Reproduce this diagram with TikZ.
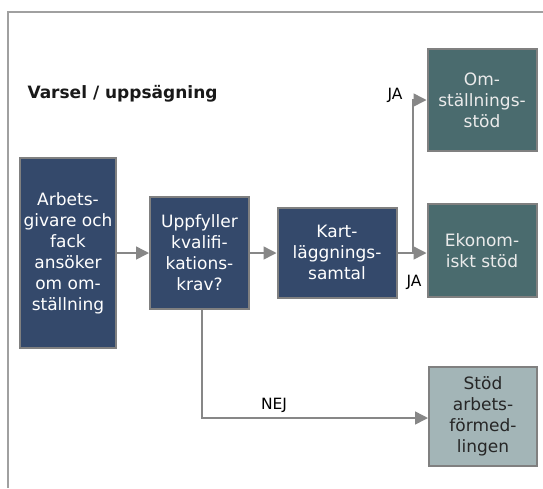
\documentclass[tikz,border=0pt]{standalone}
\usepackage{fontspec}
\setmainfont{DejaVu Sans}
\usetikzlibrary{arrows.meta}
\definecolor{dblue}{RGB}{52,73,107}
\definecolor{teal2}{RGB}{74,107,110}
\definecolor{lgray}{RGB}{163,181,183}
\definecolor{bord}{RGB}{128,128,128}
\definecolor{frame}{RGB}{160,160,160}
\definecolor{lne}{RGB}{135,135,135}
\begin{document}
\begin{tikzpicture}[x=1pt,y=-1pt,
  box/.style={draw=bord, line width=2pt, align=center, inner sep=0pt,
    font=\fontsize{17}{21}\selectfont},
  bluebox/.style={box, fill=dblue, text=white},
  tealbox/.style={box, fill=teal2, text=white!92!black},
  lightbox/.style={box, fill=lgray, text=black!85},
  conn/.style={draw=lne, line width=1.5pt, -{Triangle[length=13pt,width=13pt,fill=lne]}},
  lbl/.style={font=\fontsize{15.5}{18}\selectfont, text=black}]
\useasboundingbox (0,0) rectangle (543,488);
\fill[white] (0,0) rectangle (543,488);
\draw[frame, line width=2pt] (8,488) -- (8,12) -- (543,12);
\node[anchor=west, font=\fontsize{17}{20}\selectfont\bfseries, text=black!90] (title) at (24,94) {Varsel / uppsägning};
\node[bluebox, minimum width=96pt, minimum height=190pt] (b1) at (68,253) {Arbets-\\givare och\\fack\\ansöker\\om om-\\ställning};
\node[bluebox, minimum width=99pt, minimum height=112pt] (b2) at (199.5,253) {Uppfyller\\kvalifi-\\kations-\\krav?};
\node[bluebox, minimum width=119pt, minimum height=90pt] (b3) at (337,252.5) {Kart-\\läggnings-\\samtal};
\node[tealbox, minimum width=109pt, minimum height=93pt] (b4) at (482,250.5) {Ekonom-\\iskt stöd};
\node[tealbox, minimum width=109pt, minimum height=102pt] (b5) at (482,100) {Om-\\ställnings-\\stöd};
\node[lightbox, minimum width=108pt, minimum height=99pt] (b6) at (483,416) {Stöd\\arbets-\\förmed-\\lingen};
\coordinate (br) at (413,253);
\coordinate (nj) at (202,418);
\draw[conn] (b1.east |- 0,253) -- (b2.west |- 0,253);
\draw[conn] (b2.east |- 0,253) -- (b3.west |- 0,253);
\draw[conn] (b3.east |- 0,253) -- (b4.west |- 0,253);
\draw[conn] (br) |- (b5.west);
\draw[conn] (b2.south -| nj) -- (nj) -- (b6.west |- nj);
\node[lbl] (ja1) at (395,95) {JA};
\node[lbl] (ja2) at (414,282) {JA};
\node[lbl] (nej) at (274,405) {NEJ};
\end{tikzpicture}
\end{document}
